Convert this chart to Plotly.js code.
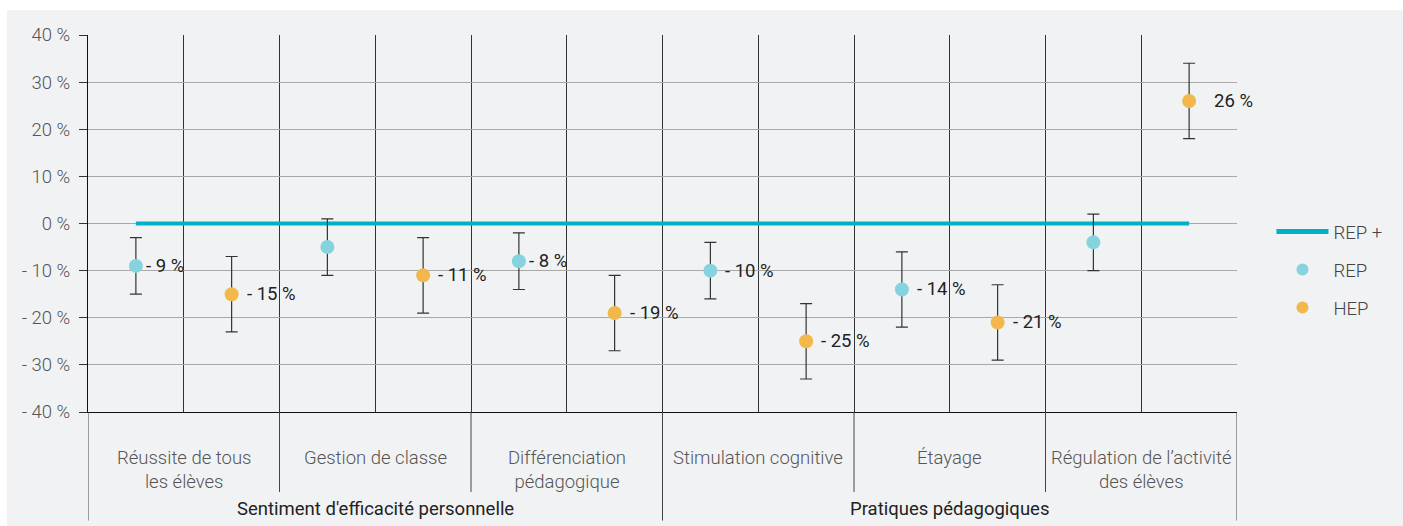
<!DOCTYPE html>
<html><head><meta charset="utf-8">
<script src="https://cdn.plot.ly/plotly-3.0.1.min.js"></script>
<style>
html,body{margin:0;padding:0;background:#fff;}
#chart{position:absolute;left:7px;top:10px;width:1396px;height:516px;}
</style></head>
<body><div id="chart"></div>
<script>
// Categories (each with a REP and a HEP point)
const categories = ["Réussite de tous<br>les élèves", "Gestion de classe", "Différenciation<br>pédagogique",
                    "Stimulation cognitive", "Étayage", "Régulation de l’activité<br>des élèves"];
const groups = ["Sentiment d'efficacité personnelle", "Pratiques pédagogiques"];
const groupSizes = [3, 3];

const repValues = [-9, -5, -8, -10, -14, -4];
const repErr    = [6, 6, 6, 6, 8, 6];
const repLabels = ["- 9 %", "", "- 8 %", "- 10 %", "- 14 %", ""];

const hepValues = [-15, -11, -19, -25, -21, 26];
const hepErr    = [8, 8, 8, 8, 8, 8];
const hepLabels = ["- 15 %", "- 11 %", "- 19 %", "- 25 %", "- 21 %", "26 %"];

const repPlusValues = [0, 0, 0, 0, 0, 0, 0, 0, 0, 0, 0, 0];

const yTickVals = [40, 30, 20, 10, 0, -10, -20, -30, -40];
const yTickText = ["40 %", "30 %", "20 %", "10 %", "0 %", "- 10 %", "- 20 %", "- 30 %", "- 40 %"];

// positions: REP at odd slots, HEP at even slots
const nCat = categories.length;
const repX = categories.map((c, i) => 2 * i + 1);
const hepX = categories.map((c, i) => 2 * i + 2);
const allX = repPlusValues.map((v, i) => i + 1);

const FONT = "Roboto, sans-serif";
const FS = 18.5;

const traces = [
  { x: allX, y: repPlusValues, type: "scatter", mode: "lines", name: "REP +",
    line: { color: "#00b0c6", width: 4 }, legendgroup: "a", hoverinfo: "skip" },
  { x: repX, y: repValues, type: "scatter", mode: "markers", name: "REP",
    marker: { color: "#86d3e0", size: 14 },
    error_y: { type: "data", array: repErr, visible: true, color: "#333", thickness: 1.2, width: 6 },
    legendgroup: "b" },
  { x: hepX, y: hepValues, type: "scatter", mode: "markers", name: "HEP",
    marker: { color: "#f2b84b", size: 14 },
    error_y: { type: "data", array: hepErr, visible: true, color: "#333", thickness: 1.2, width: 6 },
    legendgroup: "c" }
];

const annotations = [];
function valueLabel(x, y, t) {
  const short = Math.abs(y) < 10;
  return { x: x, y: y, xref: "x", yref: "y", text: t, showarrow: false,
    xanchor: short ? "left" : "right", yanchor: "middle", xshift: short ? 8 : 66,
    font: { family: FONT, size: FS, color: "#222" } };
}
repLabels.forEach((t, i) => { if (t) annotations.push(valueLabel(repX[i], repValues[i], t)); });
hepLabels.forEach((t, i) => { if (t) annotations.push(valueLabel(hepX[i], hepValues[i], t)); });

categories.forEach((c, i) => annotations.push({ x: 2 * i + 1.5, y: -0.088, xref: "x", yref: "paper", text: c,
  showarrow: false, xanchor: "center", yanchor: "top", font: { family: FONT, size: FS, color: "#555", weight: 300 } }));

const shapes = [];
let start = 0;
groups.forEach((g, gi) => {
  const end = start + groupSizes[gi];
  annotations.push({ x: start * 2 + 0.5 + (end - start), y: -0.257, xref: "x", yref: "paper", text: g,
    showarrow: false, xanchor: "center", yanchor: "middle", font: { family: FONT, size: FS, color: "#222" } });
  start = end;
});
// separators below the axis
for (let i = 0; i <= nCat; i++) {
  const isGroupEdge = (i === 0 || i === nCat || i === groupSizes[0]);
  shapes.push({ type: "line", xref: "x", yref: "paper", x0: 2 * i + 0.5, x1: 2 * i + 0.5,
    y0: 0, y1: isGroupEdge ? -0.288 : -0.212, line: { color: "#444", width: 1 } });
}

const layout = {
  width: 1396, height: 516,
  margin: { l: 81, r: 166, t: 25, b: 114 },
  paper_bgcolor: "#f1f2f4", plot_bgcolor: "rgba(0,0,0,0)",
  font: { family: FONT, color: "#555" },
  showlegend: true,
  legend: { x: 1.03, y: 0.377, xanchor: "left", yanchor: "middle", traceorder: "grouped", tracegroupgap: 11,
    itemwidth: 52, itemsizing: "constant",
    font: { family: FONT, size: FS, color: "#444", weight: 300 }, bgcolor: "rgba(0,0,0,0)" },
  xaxis: { range: [0.5, 12.5], tickvals: [0.5,1.5,2.5,3.5,4.5,5.5,6.5,7.5,8.5,9.5,10.5,11.5,12.5],
    showticklabels: false, ticks: "", showgrid: true, gridcolor: "#333", gridwidth: 1, zeroline: false,
    showline: true, linecolor: "#111", linewidth: 1, mirror: false, fixedrange: true },
  yaxis: { range: [-40, 40], tickvals: yTickVals, ticktext: yTickText, ticks: "outside", ticklen: 8,
    tickcolor: "#333", showgrid: true, gridcolor: "#a8a8a8", gridwidth: 1, zeroline: false,
    showline: true, linecolor: "#111", linewidth: 1, ticklabelstandoff: 5,
    tickfont: { family: FONT, size: FS, color: "#555", weight: 300 }, fixedrange: true },
  annotations: annotations, shapes: shapes
};

Plotly.newPlot("chart", traces, layout, { displayModeBar: false, staticPlot: true });
</script></body></html>
